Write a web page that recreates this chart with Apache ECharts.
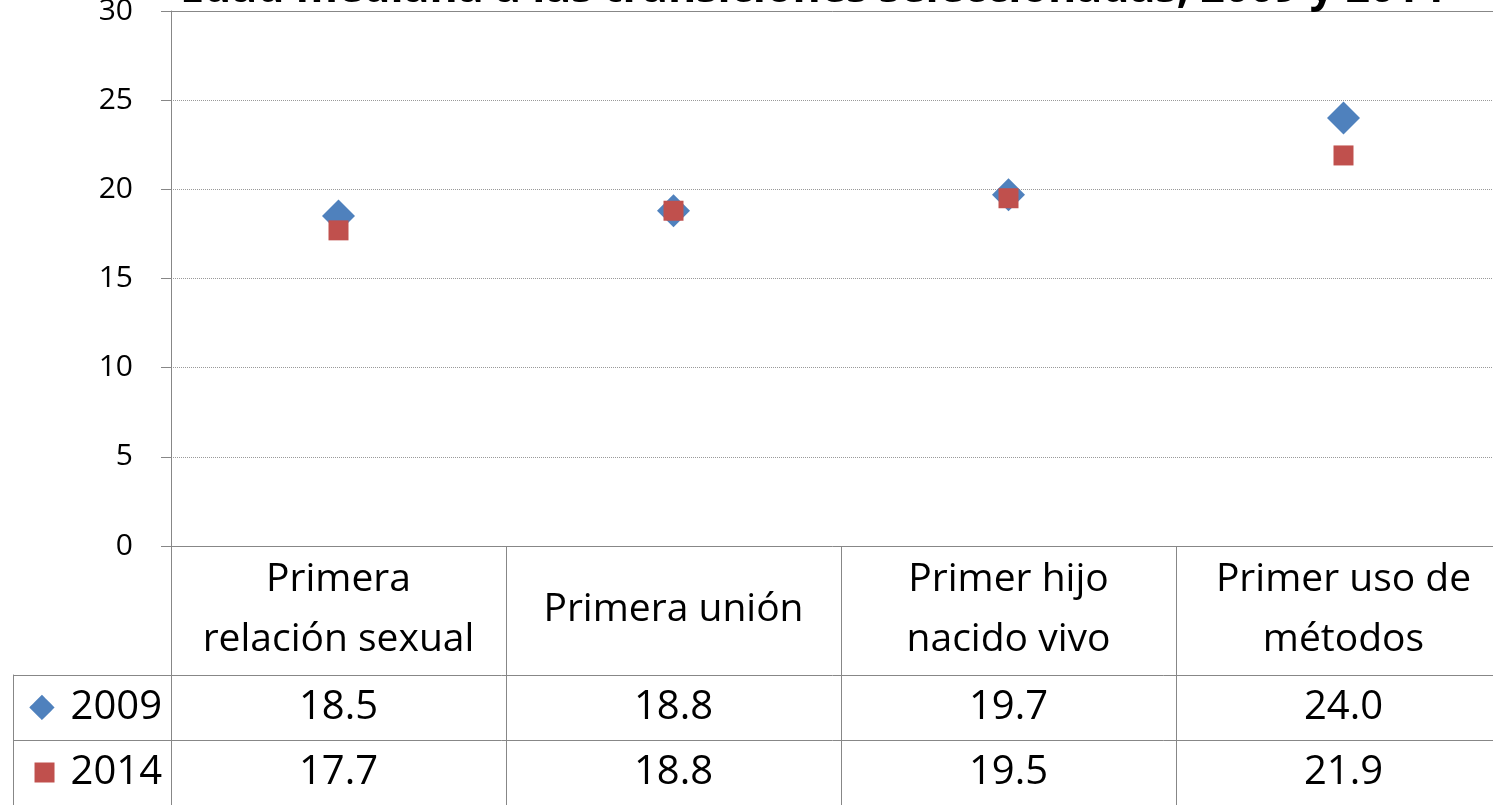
<!DOCTYPE html>
<html lang="es">
<head>
<meta charset="UTF-8">
<title>Edad mediana a las transiciones seleccionadas</title>
<script src="https://cdn.jsdelivr.net/npm/echarts@6/dist/echarts.min.js"></script>
<style>
  html, body { margin: 0; padding: 0; background: #fff; }
  #chart { width: 1493px; height: 805px; }
</style>
</head>
<body>
<div id="chart"></div>
<script>
  // datos
  const titleText = 'Edad mediana a las transiciones seleccionadas, 2009 y 2014';
  const categories = ['Primera\nrelación sexual', 'Primera unión', 'Primer hijo\nnacido vivo', 'Primer uso de\nmétodos'];
  const years = ['2009', '2014'];
  const values2009 = [18.5, 18.8, 19.7, 24.0];
  const values2014 = [17.7, 18.8, 19.5, 21.9];
  const yMin = 0, yMax = 30, yStep = 5;

  const lineGray = '#878787';
  const font = 'Open Sans';

  // celdas de la tabla: [columna, fila, valor]
  const tableCells = [];
  [values2009, values2014].forEach(function (row, r) {
    row.forEach(function (v, c) { tableCells.push([c, r, v]); });
  });

  const chart = echarts.init(document.getElementById('chart'));

  const option = {
    animation: false,
    textStyle: { fontFamily: font },
    title: {
      text: titleText,
      left: 175,
      top: -37,
      textStyle: { fontSize: 43, fontWeight: 'bold', color: '#000', fontFamily: font }
    },
    grid: [
      // area del grafico
      { left: 171, right: -18, top: 11, bottom: 259, outerBoundsMode: 'none' },
      // filas de la tabla de datos
      { left: 171, right: -18, top: 675, height: 130, outerBoundsMode: 'none' }
    ],
    xAxis: [
      {
        type: 'category',
        gridIndex: 0,
        data: categories,
        boundaryGap: true,
        axisLine: { show: true, lineStyle: { color: lineGray } },
        axisTick: { show: true, length: 129, interval: 0, lineStyle: { color: lineGray } },
        axisLabel: {
          interval: 0,
          margin: 64,
          verticalAlign: 'middle',
          fontSize: 39,
          lineHeight: 60,
          color: '#000',
          fontFamily: font
        },
        splitLine: { show: false }
      },
      {
        type: 'category',
        gridIndex: 1,
        data: categories,
        boundaryGap: true,
        axisLine: { show: false },
        axisTick: { show: false },
        axisLabel: { show: false },
        splitLine: { show: true, interval: 0, lineStyle: { color: lineGray, type: 'solid' } }
      },
      {
        // borde superior del area
        type: 'category',
        gridIndex: 0,
        position: 'top',
        data: categories,
        axisLine: { show: true, lineStyle: { color: lineGray } },
        axisTick: { show: false },
        axisLabel: { show: false }
      }
    ],
    yAxis: [
      {
        type: 'value',
        gridIndex: 0,
        min: yMin,
        max: yMax,
        interval: yStep,
        axisLine: { show: true, lineStyle: { color: lineGray } },
        axisTick: { show: true, length: 10, lineStyle: { color: lineGray } },
        axisLabel: { fontSize: 30, color: '#000', margin: 38, fontFamily: font },
        splitLine: { show: true, lineStyle: { color: '#999999', type: 'dotted' } }
      },
      {
        type: 'category',
        gridIndex: 1,
        data: years,
        inverse: true,
        axisLine: { show: true, lineStyle: { color: lineGray } },
        axisTick: { show: true, length: 158, interval: 0, lineStyle: { color: lineGray } },
        axisLabel: {
          margin: 9,
          formatter: function (v, i) {
            return (i === 0 ? '{d|◆}' : '{s|}') + '{g|}{t|' + v + '}';
          },
          rich: {
            d: { fontSize: 33, color: '#4F81BD', fontFamily: 'DejaVu Sans' },
            s: { width: 20, height: 20, backgroundColor: '#C0504D' },
            g: { width: 16 },
            t: { fontSize: 40, color: '#000', fontFamily: font }
          }
        },
        splitLine: { show: true, interval: 0, lineStyle: { color: lineGray, type: 'solid' } }
      },
      {
        // borde izquierdo de la leyenda
        type: 'category',
        gridIndex: 1,
        data: years,
        inverse: true,
        position: 'left',
        offset: 158,
        axisLine: { show: true, lineStyle: { color: lineGray } },
        axisTick: { show: false },
        axisLabel: { show: false },
        splitLine: { show: false }
      }
    ],
    series: [
      {
        name: '2009',
        type: 'scatter',
        xAxisIndex: 0,
        yAxisIndex: 0,
        symbol: 'diamond',
        symbolSize: 33,
        itemStyle: { color: '#4F81BD', opacity: 1 },
        data: values2009
      },
      {
        name: '2014',
        type: 'scatter',
        xAxisIndex: 0,
        yAxisIndex: 0,
        symbol: 'rect',
        symbolSize: 20,
        itemStyle: { color: '#C0504D', opacity: 1 },
        data: values2014
      },
      {
        name: 'tabla',
        type: 'scatter',
        xAxisIndex: 1,
        yAxisIndex: 1,
        symbolSize: 1,
        itemStyle: { color: 'rgba(0,0,0,0)', opacity: 1 },
        silent: true,
        label: {
          show: true,
          position: 'inside',
          fontSize: 40,
          color: '#000',
          fontFamily: font,
          formatter: function (p) { return p.value[2].toFixed(1); }
        },
        data: tableCells
      }
    ]
  };

  chart.setOption(option);
</script>
</body>
</html>
